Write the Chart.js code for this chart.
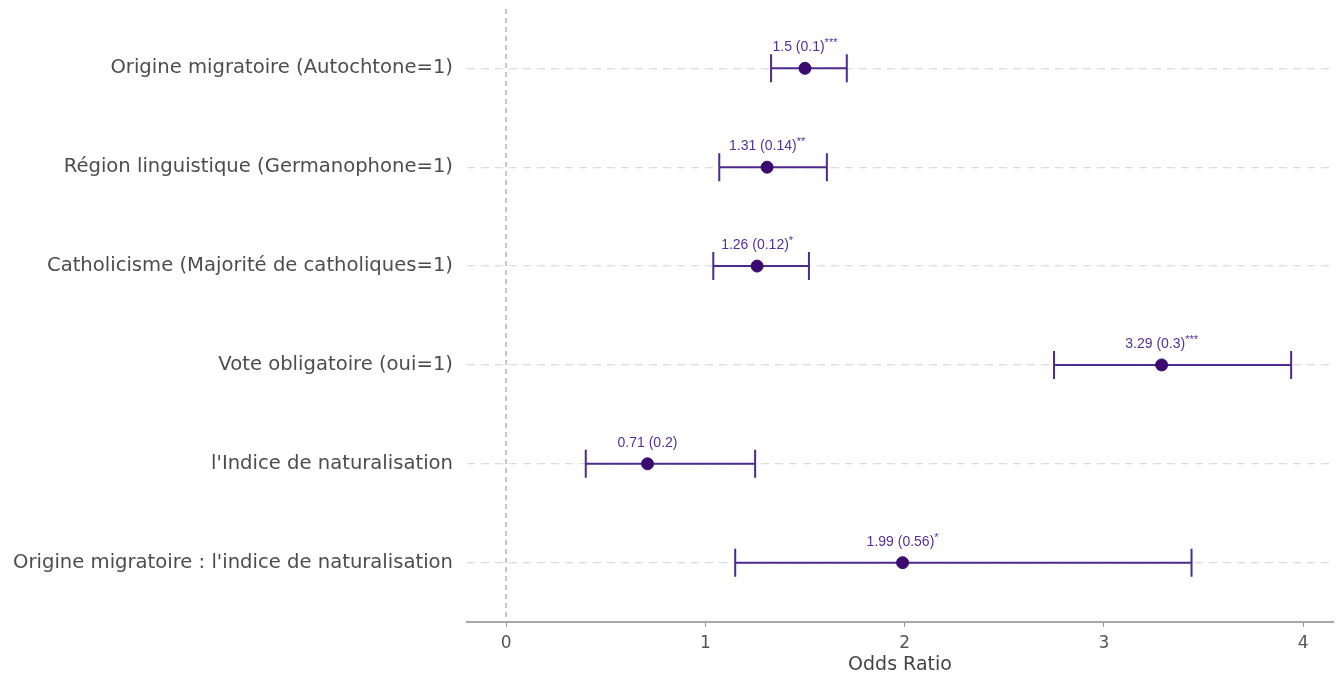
<!DOCTYPE html>
<html>
<head>
<meta charset="utf-8">
<script src="https://cdn.jsdelivr.net/npm/chart.js@4"></script>
<style>
  html, body { margin: 0; padding: 0; background: #fff; }
  #wrap { width: 1341px; height: 677px; }
</style>
</head>
<body>
<div id="wrap"><canvas id="forest"></canvas></div>
<script>
const variables = [
  "Origine migratoire (Autochtone=1)",
  "Région linguistique (Germanophone=1)",
  "Catholicisme (Majorité de catholiques=1)",
  "Vote obligatoire (oui=1)",
  "l'Indice de naturalisation",
  "Origine migratoire : l'indice de naturalisation"
]
const oddsRatios = [1.5, 1.31, 1.26, 3.29, 0.71, 1.99]
const stdErrors = [0.1, 0.14, 0.12, 0.3, 0.2, 0.56]
const stars = ["***", "**", "*", "***", "", "*"]
const ciLow = [1.33, 1.07, 1.04, 2.75, 0.40, 1.15]
const ciHigh = [1.71, 1.61, 1.52, 3.94, 1.25, 3.44]
const xTicks = [0, 1, 2, 3, 4]

const lineColor = "#4e2a8e"
const dotColor = "#3a0a6e"
const labelFont = "14px 'Liberation Sans', Arial, sans-serif"
const starFont = "11px 'Liberation Sans', Arial, sans-serif"

// error bars, reference line and labels drawn on the chart scales
const forestPlugin = {
  id: 'forest',
  beforeDatasetsDraw(chart) {
    const ctx = chart.ctx
    const x = chart.scales.x
    const area = chart.chartArea
    const x0 = x.getPixelForValue(0)
    ctx.save()
    ctx.strokeStyle = "#b88ce0"
    ctx.lineWidth = 1.2
    ctx.setLineDash([5, 4])
    ctx.beginPath()
    ctx.moveTo(x0, area.top)
    ctx.lineTo(x0, area.bottom)
    ctx.stroke()
    ctx.setLineDash([])

    const y = chart.scales.y
    ctx.strokeStyle = lineColor
    ctx.lineWidth = 2
    for (var i = 0; i < variables.length; i++) {
      const py = y.getPixelForValue(i + 1)
      const xl = x.getPixelForValue(ciLow[i])
      const xh = x.getPixelForValue(ciHigh[i])
      ctx.beginPath()
      ctx.moveTo(xl, py); ctx.lineTo(xh, py)
      ctx.moveTo(xl, py - 14); ctx.lineTo(xl, py + 14)
      ctx.moveTo(xh, py - 14); ctx.lineTo(xh, py + 14)
      ctx.stroke()
    }
    ctx.restore()
  },
  afterDatasetsDraw(chart) {
    const ctx = chart.ctx
    const x = chart.scales.x
    const y = chart.scales.y
    ctx.save()
    ctx.fillStyle = "#55309a"
    ctx.textBaseline = "alphabetic"
    ctx.textAlign = "left"
    for (var i = 0; i < variables.length; i++) {
      const px = x.getPixelForValue(oddsRatios[i])
      const py = y.getPixelForValue(i + 1)
      const main = `${oddsRatios[i]} (${stdErrors[i]})`
      ctx.font = labelFont
      const w1 = ctx.measureText(main).width
      ctx.font = starFont
      const w2 = stars[i] ? ctx.measureText(stars[i]).width : 0
      const left = px - (w1 + w2) / 2
      ctx.font = labelFont
      ctx.fillText(main, left, py - 17)
      if (stars[i]) {
        ctx.font = starFont
        ctx.fillText(stars[i], left + w1, py - 22)
      }
    }
    ctx.restore()
  }
}

const points = oddsRatios.map((v, i) => ({ x: v, y: i + 1 }))

new Chart(document.getElementById('forest'), {
  type: 'scatter',
  data: {
    datasets: [{
      data: points,
      backgroundColor: dotColor,
      borderColor: dotColor,
      pointRadius: 6,
      pointHoverRadius: 6
    }]
  },
  options: {
    responsive: true,
    maintainAspectRatio: false,
    animation: false,
    layout: { padding: { top: 9, right: 8, left: 0, bottom: 0 } },
    plugins: {
      legend: { display: false },
      tooltip: { enabled: false }
    },
    scales: {
      x: {
        type: 'linear',
        min: -0.196,
        max: 4.15,
        afterBuildTicks: (s) => { s.ticks = xTicks.map(v => ({ value: v })) },
        afterFit: (s) => { s.height = 55 },
        grid: {
          drawOnChartArea: false,
          drawTicks: true,
          tickLength: 5,
          tickColor: "#9a9a9a",
          lineWidth: 1
        },
        border: { display: true, color: "#a8a8a8", width: 2 },
        ticks: {
          padding: 6,
          color: "#555555",
          font: { family: "'DejaVu Sans', sans-serif", size: 17 }
        },
        title: {
          display: true,
          text: "Odds Ratio",
          color: "#444444",
          padding: { top: 0, bottom: 1 },
          font: { family: "'DejaVu Sans', sans-serif", size: 19 }
        }
      },
      y: {
        type: 'linear',
        reverse: true,
        min: 0.4,
        max: 6.6,
        afterBuildTicks: (s) => { s.ticks = variables.map((v, i) => ({ value: i + 1 })) },
        afterFit: (s) => {
          s.width = 467
          s.paddingTop = 0
          s.paddingBottom = 0
        },
        grid: {
          drawTicks: false,
          color: "#dcdcdc",
          lineWidth: 1.3
        },
        border: { display: false, dash: [8, 6] },
        ticks: {
          padding: 14,
          color: "#4d4d4d",
          font: { family: "'DejaVu Sans', sans-serif", size: 19.6 },
          callback: (v) => variables[v - 1]
        }
      }
    }
  },
  plugins: [forestPlugin]
});
</script>
</body>
</html>
